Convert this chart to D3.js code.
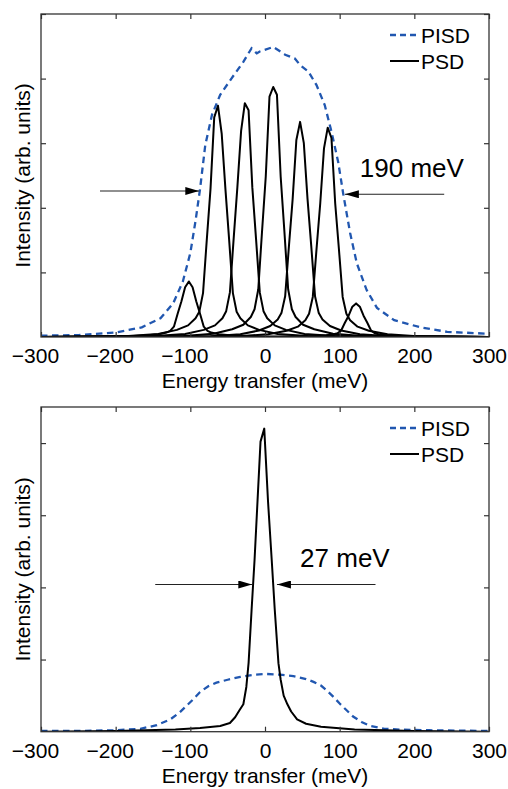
<!DOCTYPE html>
<html>
<head>
<meta charset="utf-8">
<title>PISD / PSD</title>
<style>
  html, body { margin: 0; padding: 0; background: #fff; }
  svg { display: block; font-family: "Liberation Sans", Arial, Helvetica, sans-serif; }
</style>
</head>
<body>
<div id="chart"></div>
<script src="https://cdn.jsdelivr.net/npm/d3@7"></script>
<script>
// energy transfer (meV), intensity (arb. units)

var xTicks = [-300, -200, -100, 0, 100, 200, 300];
var legendNames = ["PISD", "PSD"];

// top panel
var pisdTop = [[-300,0.02],[-250,0.03],[-200,0.07],[-165,0.15],[-140,0.29],[-123,0.52],[-110,0.86],[-100,1.3],
  [-93,1.8],[-87,2.29],[-80,2.97],[-71,3.44],[-60,3.75],[-45,4.0],[-29,4.26],[-18,4.47],[-11,4.39],[-7,4.42],
  [11,4.49],[27,4.37],[40,4.31],[47,4.21],[58,4.11],[69,3.90],[80,3.59],[89,3.18],[98,2.71],[105,2.2],
  [114,1.61],[123,1.14],[136,0.73],[150,0.45],[173,0.26],[208,0.15],[244,0.08],[300,0.05]];

var psdTop = [
  [[-300,0],[-222,0.003],[-182,0.011],[-157,0.026],[-142,0.043],[-132,0.069],[-127,0.095],[-122,0.16],[-117,0.36],[-112,0.55],[-107,0.77],
   [-102,0.86],[-97,0.77],[-92,0.55],[-87,0.36],[-82,0.16],[-77,0.095],[-72,0.069],[-62,0.043],[-47,0.026],[-22,0.011],[18,0.003],[300,0]],
  [[-300,0],[-183,0.014],[-143,0.047],[-118,0.11],[-103,0.18],[-93,0.29],[-88,0.39],[-83,0.68],[-78,1.50],[-73,2.29],[-68,3.40],
   [-63,3.58],[-58,3.15],[-53,2.29],[-48,1.50],[-43,0.68],[-38,0.39],[-33,0.29],[-23,0.18],[-8,0.11],[17,0.047],[57,0.014],[300,0]],
  [[-300,0],[-147,0.014],[-107,0.047],[-82,0.11],[-67,0.18],[-57,0.29],[-52,0.40],[-47,0.69],[-42,1.52],[-37,2.32],[-32,3.19],
   [-27,3.62],[-22,3.51],[-17,2.32],[-12,1.52],[-7,0.69],[-2,0.40],[3,0.29],[13,0.18],[28,0.11],[53,0.047],[93,0.014],[300,0]],
  [[-300,0],[-109,0.015],[-69,0.05],[-44,0.12],[-29,0.19],[-19,0.31],[-14,0.43],[-9,0.74],[-4,1.63],[1,2.48],[6,3.72],
   [11,3.87],[16,3.75],[21,2.48],[26,1.63],[31,0.74],[36,0.43],[41,0.31],[51,0.19],[66,0.12],[91,0.05],[131,0.015],[300,0]],
  [[-300,0],[-73,0.013],[-33,0.043],[-8,0.10],[7,0.17],[17,0.27],[22,0.37],[27,0.63],[32,1.40],[37,2.13],[42,3.05],
   [47,3.33],[52,3.0],[57,2.13],[62,1.40],[67,0.63],[72,0.37],[77,0.27],[87,0.17],[102,0.10],[127,0.043],[167,0.013],[300,0]],
  [[-300,0],[-36,0.013],[4,0.042],[29,0.097],[44,0.16],[54,0.26],[59,0.36],[64,0.62],[69,1.36],[74,2.07],[79,2.92],
   [84,3.24],[89,3.08],[94,2.07],[99,1.36],[104,0.62],[109,0.36],[114,0.26],[124,0.16],[139,0.097],[164,0.042],[204,0.013],[300,0]],
  [[-300,0],[2,0.002],[42,0.007],[67,0.016],[82,0.026],[92,0.042],[97,0.057],[102,0.10],[107,0.22],[112,0.33],[117,0.47],
   [122,0.52],[127,0.47],[132,0.33],[137,0.22],[142,0.10],[147,0.057],[152,0.042],[162,0.026],[177,0.016],[202,0.007],[242,0.002],[300,0]]
];

// bottom panel
var pisdBottom = [[-300,0.01],[-250,0.01],[-200,0.02],[-167,0.04],[-145,0.09],[-127,0.17],[-115,0.26],[-105,0.36],
  [-96,0.45],[-87,0.55],[-76,0.63],[-65,0.68],[-50,0.72],[-33,0.76],[-15,0.79],[2,0.80],[20,0.79],[38,0.77],
  [55,0.73],[65,0.69],[75,0.64],[83,0.57],[92,0.48],[100,0.39],[110,0.29],[118,0.21],[130,0.13],[141,0.08],
  [160,0.04],[180,0.03],[220,0.02],[300,0.01]];

var psdBottom = [[-300,0],[-200,0.01],[-120,0.03],[-87,0.05],[-60,0.08],[-47,0.12],[-40,0.2],[-34,0.3],[-29,0.38],
  [-25,0.62],[-22,0.95],[-18,1.68],[-14,2.38],[-10,3.2],[-6,4.02],[-1,4.2],[4,3.2],[9,2.38],[13,1.7],[18,0.95],
  [21,0.72],[25,0.5],[30,0.38],[35,0.28],[43,0.17],[55,0.11],[75,0.07],[120,0.03],[200,0.01],[300,0]];

// width annotations: [tail meV, tip meV, intensity]
var arrowsTop = [[-221, -88, 2.26], [240, 107, 2.21]];
var arrowsBottom = [[-147, -17, 2.04], [148, 16, 2.04]];
var labelTop = [127, 2.48, "190 meV"];
var labelBottom = [47, 2.28, "27 meV"];


var width = 508, height = 789;
var left = 41, right = 489;
var blue = "#2157b0";

var svg = d3.select("#chart").append("svg")
    .attr("width", width)
    .attr("height", height);

svg.append("rect").attr("width", width).attr("height", height).attr("fill", "#fff");

svg.append("defs").append("marker")
    .attr("id", "head")
    .attr("markerUnits", "userSpaceOnUse")
    .attr("viewBox", "0 0 14 8")
    .attr("refX", 14)
    .attr("refY", 4)
    .attr("markerWidth", 14)
    .attr("markerHeight", 8)
    .attr("orient", "auto")
  .append("path")
    .attr("d", "M0,0 L14,4 L0,8 Z")
    .attr("fill", "#000");

var x = d3.scaleLinear().domain([-300, 300]).range([left, right]);

function drawPanel(opt) {
  var y = d3.scaleLinear().domain([0, opt.ymax]).range([opt.bottom, opt.top]);
  var g = svg.append("g");

  var clipId = "clip" + opt.id;
  svg.select("defs").append("clipPath").attr("id", clipId)
    .append("rect")
      .attr("x", left).attr("y", opt.top)
      .attr("width", right - left).attr("height", opt.bottom - opt.top);

  var line = d3.line()
      .x(function(d) { return x(d[0]); })
      .y(function(d) { return y(d[1]); });

  var plot = g.append("g").attr("clip-path", "url(#" + clipId + ")");

  plot.append("path")
      .datum(opt.pisd)
      .attr("d", line)
      .attr("fill", "none")
      .attr("stroke", blue)
      .attr("stroke-width", 2.3)
      .attr("stroke-dasharray", "6.5,4.5");

  plot.selectAll(".psd")
      .data(opt.psd)
      .enter().append("path")
      .attr("class", "psd")
      .attr("d", line)
      .attr("fill", "none")
      .attr("stroke", "#000")
      .attr("stroke-width", 2)
      .attr("stroke-linejoin", "round");

  // ticks (inside) on all four sides
  var yTicks = d3.range(1, Math.floor(opt.ymax) + 1);
  var xAxis = g.append("g")
      .attr("transform", "translate(0," + opt.bottom + ")")
      .call(d3.axisBottom(x).tickValues(xTicks).tickSize(-5).tickPadding(11).tickFormat(d3.format("d")));
  // digits centred on the tick, minus sign hanging to the left
  xAxis.selectAll("text")
      .attr("font-size", 21)
      .attr("fill", "#000")
      .attr("font-family", "'Liberation Sans', Arial, sans-serif")
      .attr("dx", function(d) { return d < 0 ? -6 : 0; });

  g.append("g")
      .attr("transform", "translate(0," + opt.top + ")")
      .call(d3.axisTop(x).tickValues(xTicks).tickSize(-5).tickFormat(""));
  g.append("g")
      .attr("transform", "translate(" + left + ",0)")
      .call(d3.axisLeft(y).tickValues(yTicks).tickSize(-5).tickFormat(""));
  g.append("g")
      .attr("transform", "translate(" + right + ",0)")
      .call(d3.axisRight(y).tickValues(yTicks).tickSize(-5).tickFormat(""));

  g.selectAll(".domain").remove();
  g.selectAll(".tick line").attr("stroke", "#333").attr("stroke-width", 1.2);

  g.append("rect")
      .attr("x", left).attr("y", opt.top)
      .attr("width", right - left).attr("height", opt.bottom - opt.top)
      .attr("fill", "none")
      .attr("stroke", "#333")
      .attr("stroke-width", 1.3);

  // axis titles
  g.append("text")
      .attr("x", (left + right) / 2)
      .attr("y", opt.bottom + 51)
      .attr("text-anchor", "middle")
      .attr("font-size", 21)
      .text("Energy transfer (meV)");

  g.append("text")
      .attr("transform", "translate(30," + ((opt.top + opt.bottom) / 2) + ") rotate(-90)")
      .attr("text-anchor", "middle")
      .attr("font-size", 21)
      .text("Intensity (arb. units)");

  // FWHM arrows
  g.selectAll(".arrow")
      .data(opt.arrows)
      .enter().append("line")
      .attr("x1", function(d) { return x(d[0]); })
      .attr("x2", function(d) { return x(d[1]); })
      .attr("y1", function(d) { return y(d[2]); })
      .attr("y2", function(d) { return y(d[2]); })
      .attr("stroke", "#222")
      .attr("stroke-width", 1.2)
      .attr("marker-end", "url(#head)");

  g.append("text")
      .attr("x", x(opt.label[0]))
      .attr("y", y(opt.label[1]))
      .attr("font-size", 26)
      .text(opt.label[2]);

  // legend
  var lg = g.append("g").attr("transform", "translate(390," + (opt.top + 21) + ")");
  lg.append("line").attr("x1", 0).attr("x2", 29).attr("y1", 0).attr("y2", 0)
      .attr("stroke", blue).attr("stroke-width", 2.3).attr("stroke-dasharray", "6,4");
  lg.append("line").attr("x1", 0).attr("x2", 29).attr("y1", 26).attr("y2", 26)
      .attr("stroke", "#000").attr("stroke-width", 2);
  lg.selectAll(".lab")
      .data(legendNames)
      .enter().append("text")
      .attr("x", 31)
      .attr("y", function(d, i) { return i * 26 + 8; })
      .attr("font-size", 21)
      .text(function(d) { return d; });
}

drawPanel({id: 1, top: 14, bottom: 337, ymax: 5, pisd: pisdTop, psd: psdTop,
  arrows: arrowsTop, label: labelTop});
drawPanel({id: 2, top: 407, bottom: 731.7, ymax: 4.5, pisd: pisdBottom, psd: [psdBottom],
  arrows: arrowsBottom, label: labelBottom});
</script>
</body>
</html>
